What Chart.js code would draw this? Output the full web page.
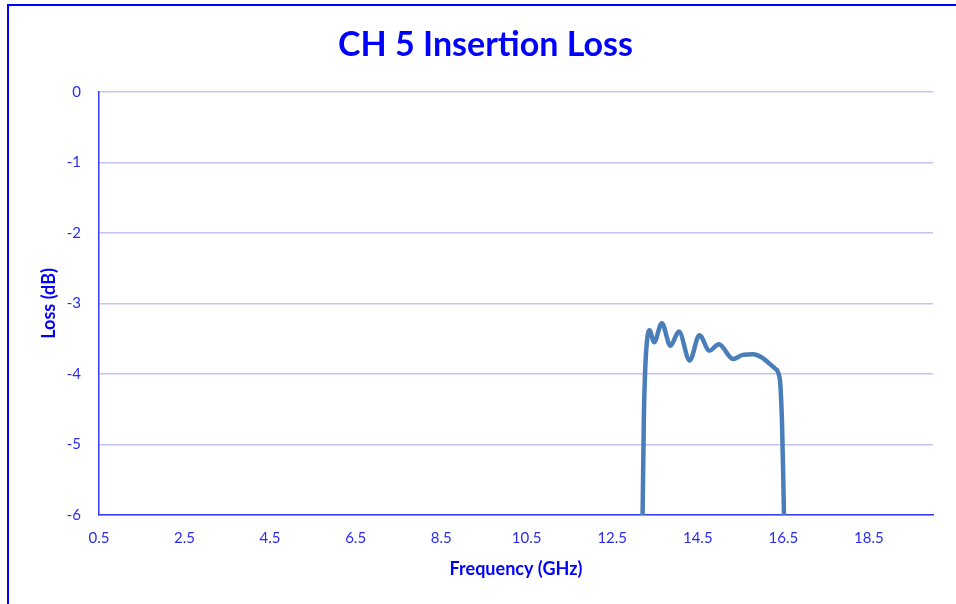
<!doctype html>
<html lang="en">

<head>
  <meta charset="UTF-8">
  <title>CH 5 Insertion Loss</title>
  <style>
    html,
    body {
      margin: 0;
      padding: 0;
      background-color: #fff;
      overflow: hidden;
    }

    #frame {
      position: absolute;
      left: 7px;
      top: 4px;
      width: 960px;
      height: 610px;
      border-top: 2px solid #0000ff;
      border-left: 2px solid #0000ff;
      pointer-events: none;
    }

    #datavis {
      position: absolute;
      left: 0;
      top: 0;
    }
  </style>
</head>

<body>
  <canvas id="datavis" width="956" height="604"></canvas>
  <div id="frame"></div>

  <script src="https://cdn.jsdelivr.net/npm/chart.js@4/dist/chart.umd.min.js"></script>

  <script>
    // Measured insertion loss of channel 5, passband only (outside it the
    // trace drops off below the bottom of the plot).
    const freqGHz = [
      13.20, 13.24, 13.27, 13.31, 13.37, 13.48, 13.66, 13.86, 14.06, 14.31,
      14.54, 14.77, 14.99, 15.33, 15.55, 15.80, 15.98, 16.15, 16.30, 16.38,
      16.43, 16.47, 16.50, 16.53
    ];
    const lossDb = [
      -6.5, -4.6, -3.95, -3.55, -3.38, -3.55, -3.28, -3.60, -3.40, -3.81,
      -3.45, -3.67, -3.58, -3.79, -3.73, -3.72, -3.76, -3.84, -3.92, -3.98,
      -4.15, -4.7, -5.5, -6.5
    ];
    const freqTicks = [0.5, 2.5, 4.5, 6.5, 8.5, 10.5, 12.5, 14.5, 16.5, 18.5];

    const blue = '#0000ff';
    const axisBlue = '#3a3af0';
    const tickBlue = '#2b2bf0';
    const gridBlue = '#c4c4f6';
    const fontFamily = 'Lato, "Open Sans", sans-serif';

    const points = freqGHz.map((f, i) => ({ x: f, y: lossDb[i] }));

    new Chart('datavis', {
      type: 'line',
      data: {
        datasets: [{
          label: 'CH 5',
          data: points,
          borderColor: '#4a7ebb',
          borderWidth: 4.5,
          pointRadius: 0,
          cubicInterpolationMode: 'monotone',
          borderCapStyle: 'round',
          borderJoinStyle: 'round',
          clip: 0
        }]
      },
      options: {
        responsive: false,
        animation: false,
        layout: {
          padding: { left: 38, right: 23, top: 0, bottom: 0 }
        },
        plugins: {
          legend: { display: false },
          tooltip: { enabled: false },
          title: {
            display: true,
            text: 'CH 5 Insertion Loss',
            color: blue,
            font: { family: fontFamily, size: 34, weight: 'bold' },
            padding: { top: 25, bottom: 26 }
          }
        },
        scales: {
          x: {
            type: 'linear',
            min: 0.5,
            max: 20,
            afterBuildTicks: (scale) => {
              scale.ticks = freqTicks.map(v => ({ value: v }));
            },
            afterFit: (scale) => { scale.height = 89; },
            grid: { display: false, drawTicks: false },
            border: { display: true, color: axisBlue, width: 1.5 },
            ticks: {
              color: tickBlue,
              padding: 14,
              maxRotation: 0,
              font: { family: fontFamily, size: 15 },
              callback: (v) => v.toFixed(1)
            },
            title: {
              display: true,
              text: 'Frequency (GHz)',
              color: blue,
              font: { family: fontFamily, size: 18, weight: 'bold' },
              padding: { top: 4, bottom: 24 }
            }
          },
          y: {
            min: -6,
            max: 0,
            afterFit: (scale) => { scale.width = 61; },
            grid: { color: gridBlue, lineWidth: 1.5, drawTicks: false },
            border: { display: true, color: axisBlue, width: 1.5 },
            ticks: {
              stepSize: 1,
              color: tickBlue,
              padding: 18,
              font: { family: fontFamily, size: 15 }
            },
            title: {
              display: true,
              text: 'Loss (dB)',
              color: blue,
              font: { family: fontFamily, size: 18, weight: 'bold' },
              padding: { top: 0, bottom: 0 }
            }
          }
        }
      }
    });
  </script>
</body>

</html>
